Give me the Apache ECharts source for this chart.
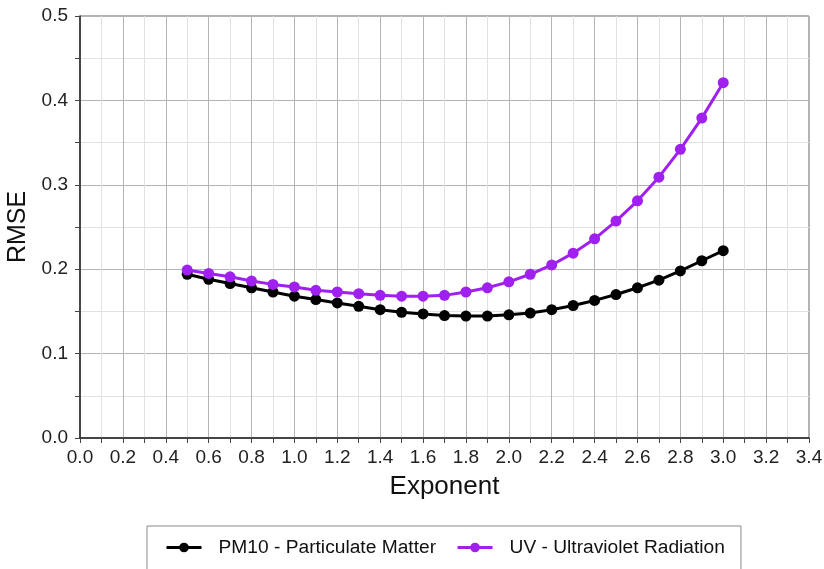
<!DOCTYPE html>
<html>
<head>
<meta charset="utf-8">
<script src="https://cdn.jsdelivr.net/npm/echarts@6/dist/echarts.min.js"></script>
<style>
  html, body { margin: 0; padding: 0; background: #fff; }
  #myChart { width: 824px; height: 569px; }
</style>
</head>
<body>
<div id="myChart"></div>
<script>
// exponent values (x)
const exponents = [0.5, 0.6, 0.7, 0.8, 0.9, 1.0, 1.1, 1.2, 1.3, 1.4, 1.5, 1.6, 1.7,
  1.8, 1.9, 2.0, 2.1, 2.2, 2.3, 2.4, 2.5, 2.6, 2.7, 2.8, 2.9, 3.0];
// RMSE per exponent
const pm10 = [0.194, 0.188, 0.183, 0.178, 0.173, 0.168, 0.164, 0.160, 0.156, 0.152, 0.149,
  0.147, 0.145, 0.1445, 0.1445, 0.146, 0.148, 0.152, 0.157, 0.163, 0.170, 0.178, 0.187,
  0.198, 0.210, 0.222];
const uv = [0.199, 0.195, 0.191, 0.186, 0.182, 0.179, 0.175, 0.173, 0.171, 0.169, 0.168,
  0.168, 0.169, 0.173, 0.178, 0.185, 0.194, 0.205, 0.219, 0.236, 0.257, 0.281, 0.309,
  0.342, 0.379, 0.421];
const seriesNames = ['PM10 - Particulate Matter', 'UV - Ultraviolet Radiation'];

const font = 'Liberation Sans, Arial, sans-serif';
let myChart = echarts.init(document.getElementById('myChart'));

function pairs(arr) {
  return exponents.map((x, i) => [x, arr[i]]);
}

myChart.setOption({
  backgroundColor: '#fff',
  animation: false,
  color: ['#000000', '#a020f0'],
  textStyle: { fontFamily: font },
  grid: {
    left: 80,
    right: 15,
    top: 16,
    bottom: 131,
    outerBoundsMode: 'none',
    containLabel: false,
    show: true,
    borderColor: '#666',
    borderWidth: 1
  },
  legend: {
    data: seriesNames,
    left: 147,
    top: 526,
    padding: [12, 16, 40, 18],
    borderColor: '#888',
    borderWidth: 1,
    itemWidth: 35,
    itemHeight: 12,
    itemGap: 20,
    lineStyle: { width: 3 },
    textStyle: { fontFamily: font, fontSize: 19.2, color: '#111', padding: [0, 0, 0, 12] }
  },
  xAxis: {
    type: 'value',
    min: 0,
    max: 3.4,
    interval: 0.2,
    name: 'Exponent',
    nameLocation: 'middle',
    nameGap: 36,
    nameTextStyle: { fontFamily: font, fontSize: 26, color: '#111' },
    axisLine: { onZero: false, lineStyle: { color: '#222', width: 1.5 } },
    axisTick: { show: true, length: 5, lineStyle: { color: '#444' } },
    minorTick: { show: true, splitNumber: 2, length: 5, lineStyle: { color: '#444' } },
    axisLabel: {
      fontFamily: font, fontSize: 19, color: '#222', margin: 10,
      formatter: v => v.toFixed(1)
    },
    splitLine: { show: true, lineStyle: { color: '#b4b4b4', width: 1 } },
    minorSplitLine: { show: true, lineStyle: { color: '#e2e2e2', width: 1 } }
  },
  yAxis: {
    type: 'value',
    min: 0,
    max: 0.5,
    interval: 0.1,
    name: 'RMSE',
    nameLocation: 'middle',
    nameGap: 48,
    nameTextStyle: { fontFamily: font, fontSize: 25, color: '#111' },
    axisLine: { show: true, onZero: false, lineStyle: { color: '#222', width: 1.5 } },
    axisTick: { show: true, length: 5, lineStyle: { color: '#444' } },
    minorTick: { show: true, splitNumber: 2, length: 5, lineStyle: { color: '#444' } },
    axisLabel: {
      fontFamily: font, fontSize: 19, color: '#222', margin: 12,
      formatter: v => v.toFixed(1)
    },
    splitLine: { show: true, lineStyle: { color: '#b4b4b4', width: 1 } },
    minorSplitLine: { show: true, lineStyle: { color: '#e2e2e2', width: 1 } }
  },
  series: [
    {
      name: seriesNames[0],
      type: 'line',
      data: pairs(pm10),
      symbol: 'circle',
      symbolSize: 11,
      lineStyle: { width: 3, color: '#000' },
      itemStyle: { color: '#000' }
    },
    {
      name: seriesNames[1],
      type: 'line',
      data: pairs(uv),
      symbol: 'circle',
      symbolSize: 11,
      lineStyle: { width: 3, color: '#a020f0' },
      itemStyle: { color: '#a020f0' }
    }
  ]
});
</script>
</body>
</html>
